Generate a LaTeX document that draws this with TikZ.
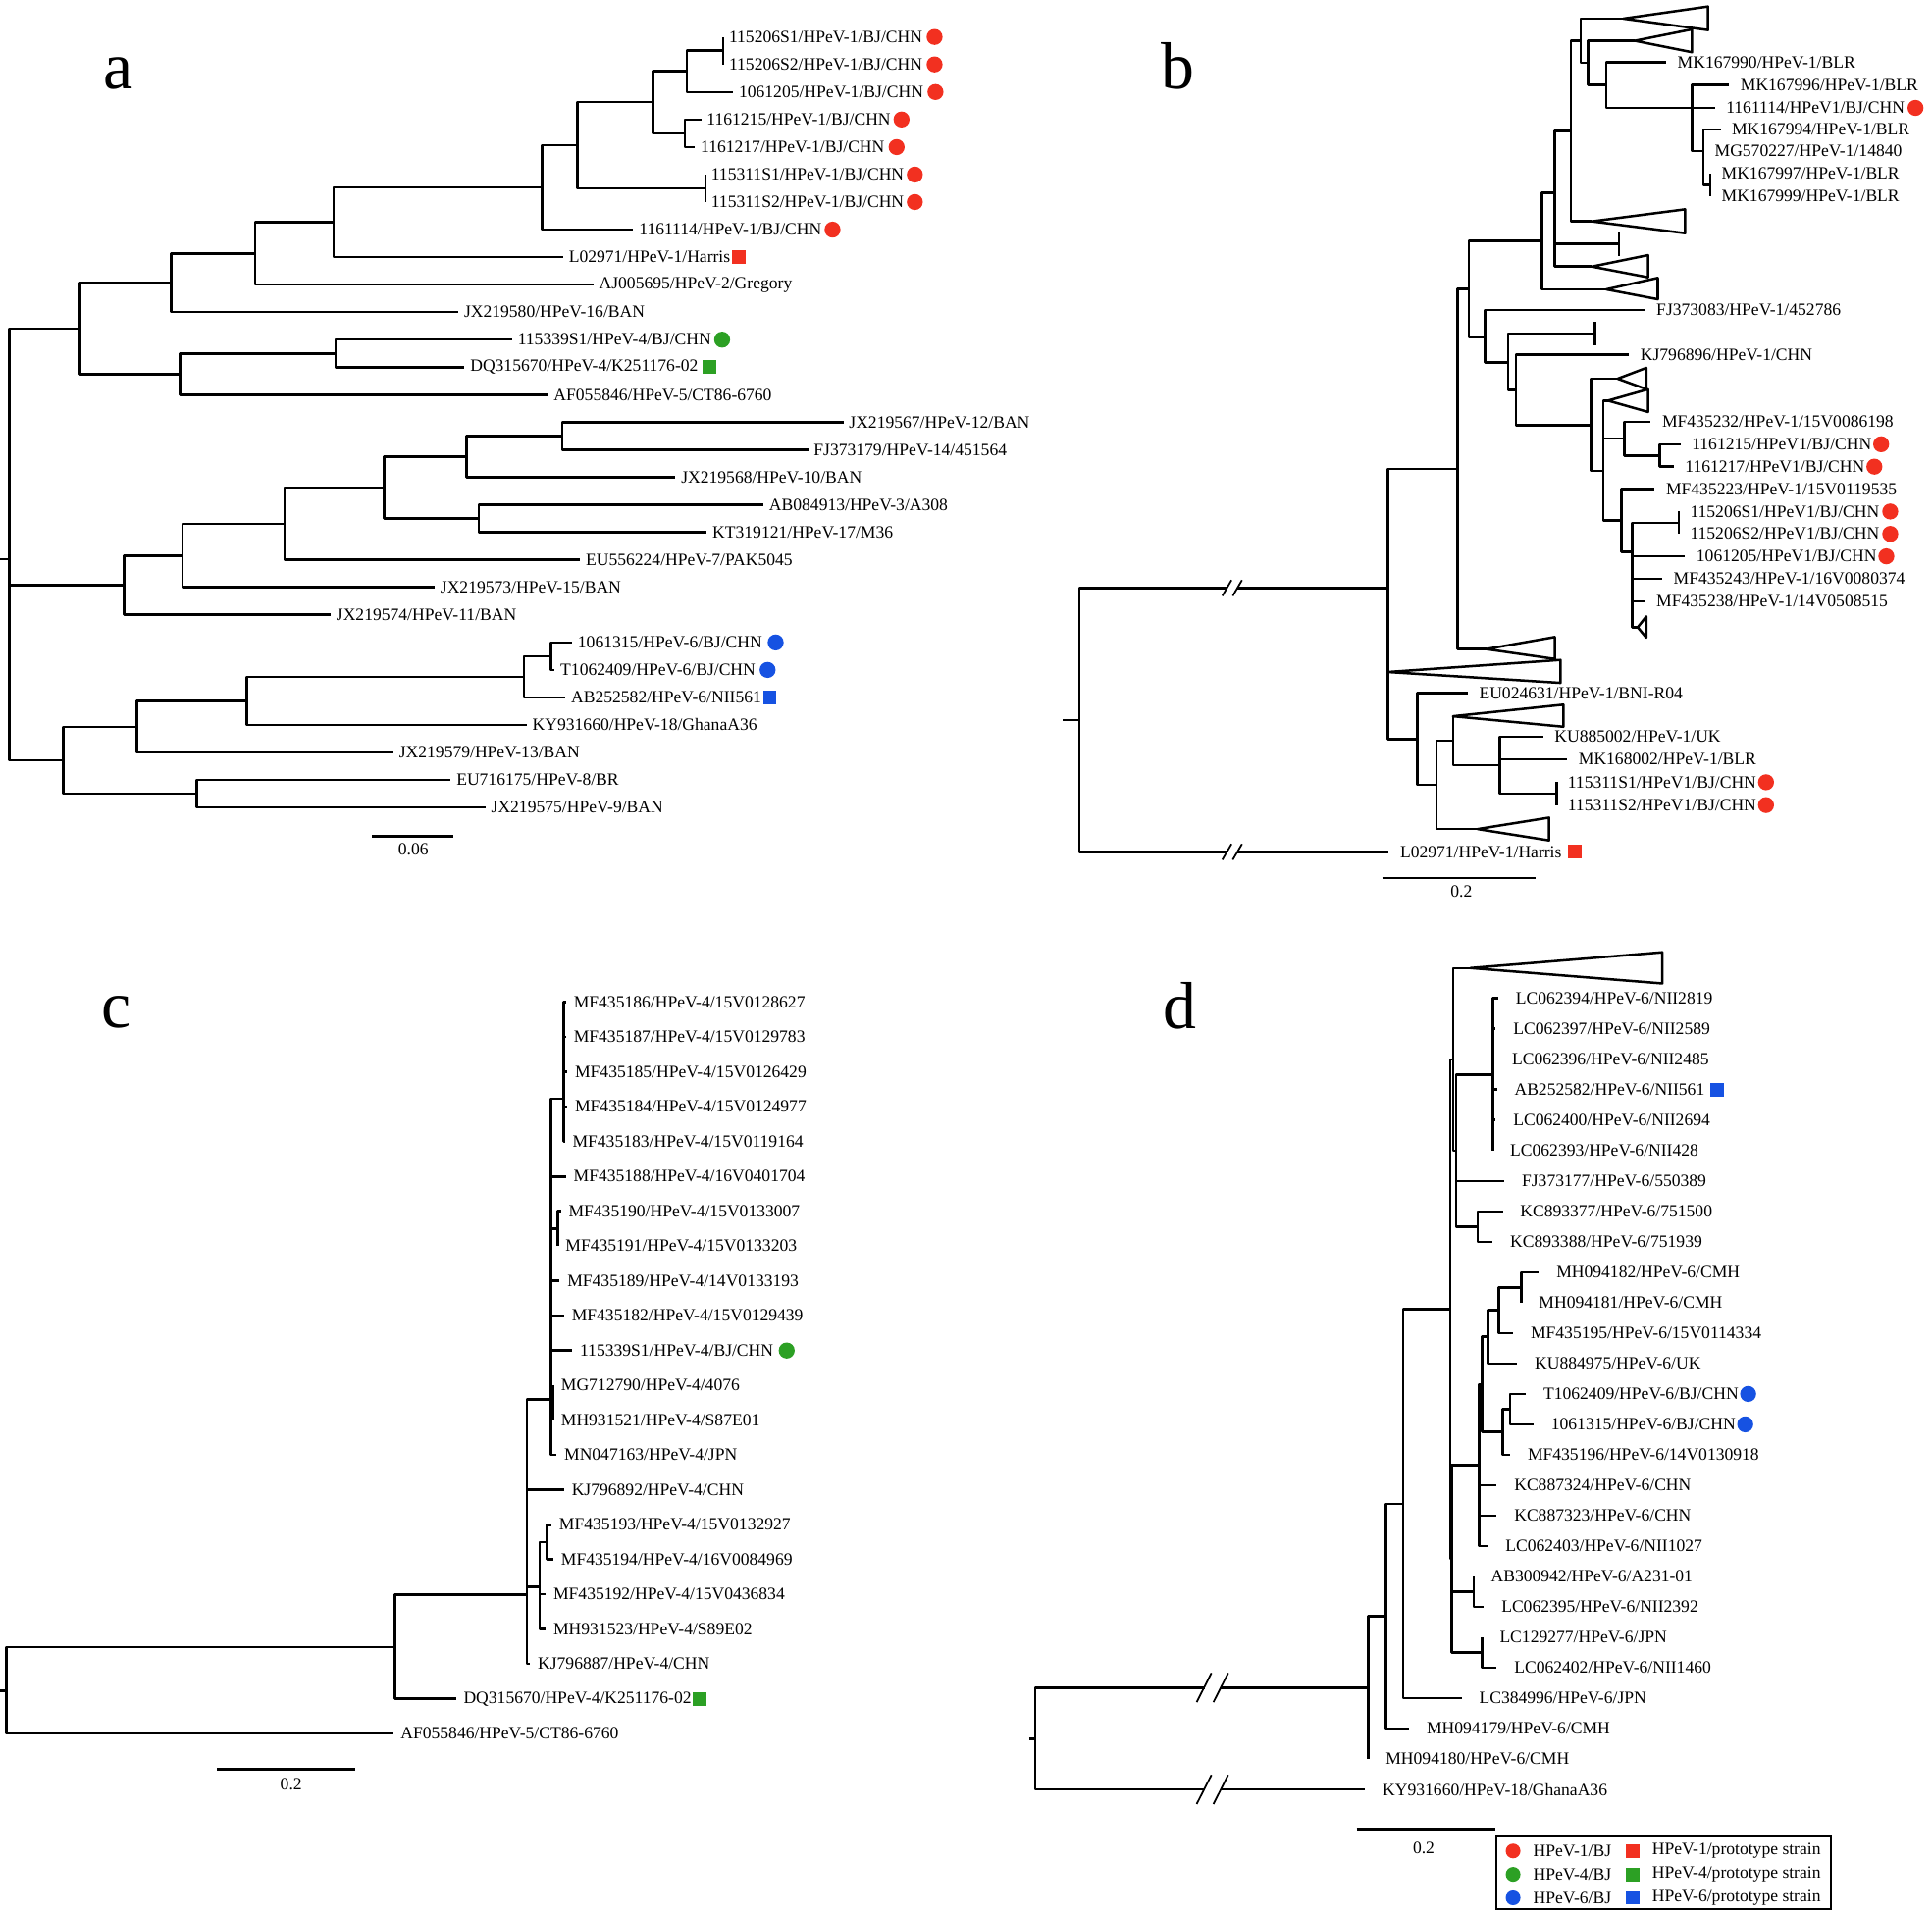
\documentclass[tikz,border=0pt]{standalone}
\usepackage{fontspec}
\setmainfont{Liberation Serif}
\usetikzlibrary{positioning}
\definecolor{bjred}{RGB}{242,48,32}
\definecolor{bjgreen}{RGB}{44,160,36}
\definecolor{bjblue}{RGB}{22,82,226}

\begin{document}
\begin{tikzpicture}[
        x=1pt, y=-1pt,
        branch/.style={line width=2pt, line join=round},
        lab/.style={font=\fontsize{14}{16}\selectfont, inner sep=0pt},
        panel/.style={font=\fontsize{54}{60}\selectfont, anchor=base, inner sep=0pt},
        dot/.style={circle, inner sep=0pt, minimum size=13pt},
        sq/.style={rectangle, inner sep=0pt, minimum size=11pt},
        brk/.pic={
            \fill[white] (-4,-3.5) rectangle (4,3.5);
            \draw[line width=1.4pt] (-8,6.4) -- (-0.5,-6.4) (0.5,6.4) -- (8,-6.4);
        },
    ]
    \useasboundingbox (0,0) rectangle (1568,1551);

    % ---------------- a: all types
    \begin{scope}[node distance=4.5pt]
        \node[panel] (a-tag) at (96,71.7) {a};

        \coordinate (a-stem) at (0,454);
        \coordinate (a-root) at (7.6,454);
        \coordinate (a-top) at (65,266.7);
        \coordinate (a-n1to11) at (139,229.6);
        \coordinate (a-n1to10) at (207,205.8);
        \coordinate (a-n1to9) at (270.6,180.5);
        \coordinate (a-n1to8) at (440,152.2);
        \coordinate (a-n1to7) at (468.6,118);
        \coordinate (a-n1to5) at (530,83);
        \coordinate (a-n123) at (557.4,57.9);
        \coordinate (a-n12) at (587,41.1);
        \coordinate (a-n45) at (555.7,108.2);
        \coordinate (a-n67) at (572.5,152.9);
        \coordinate (a-n12to14) at (146,303.7);
        \coordinate (a-n1213) at (272.2,286.9);
        \coordinate (a-mid) at (100.6,475.1);
        \coordinate (a-n15to21) at (148.3,451);
        \coordinate (a-n15to20) at (231,425.2);
        \coordinate (a-n15to19) at (311.7,395.9);
        \coordinate (a-n15to17) at (378.8,370.7);
        \coordinate (a-n1516) at (456.2,354);
        \coordinate (a-n1819) at (388.5,421);
        \coordinate (a-bot) at (51.4,617.2);
        \coordinate (a-n23to27) at (111,589.9);
        \coordinate (a-n23to26) at (200.2,569);
        \coordinate (a-n23to25) at (425.3,549.5);
        \coordinate (a-n2324) at (447,532.7);
        \coordinate (a-n2829) at (159.6,644.4);

        \coordinate (a-l1) at (587,30.0);
        \coordinate (a-l2) at (587,52.3);
        \coordinate (a-l3) at (595,74.7);
        \coordinate (a-l4) at (569,97.0);
        \coordinate (a-l5) at (564,119.4);
        \coordinate (a-l6) at (572.5,141.7);
        \coordinate (a-l7) at (572.5,164.0);
        \coordinate (a-l8) at (514,186.4);
        \coordinate (a-l9) at (457,208.7);
        \coordinate (a-l10) at (481.6,231.1);
        \coordinate (a-l11) at (372,253.4);
        \coordinate (a-l12) at (415.6,275.7);
        \coordinate (a-l13) at (377,298.1);
        \coordinate (a-l14) at (444.8,320.4);
        \coordinate (a-l15) at (684.5,342.8);
        \coordinate (a-l16) at (655.8,365.1);
        \coordinate (a-l17) at (548.2,387.4);
        \coordinate (a-l18) at (619.6,409.8);
        \coordinate (a-l19) at (573.6,432.1);
        \coordinate (a-l20) at (470.8,454.5);
        \coordinate (a-l21) at (352.8,476.8);
        \coordinate (a-l22) at (268.4,499.1);
        \coordinate (a-l23) at (464.3,521.5);
        \coordinate (a-l24) at (450.2,543.8);
        \coordinate (a-l25) at (458.9,566.2);
        \coordinate (a-l26) at (427.5,588.5);
        \coordinate (a-l27) at (319.3,610.8);
        \coordinate (a-l28) at (365.8,633.2);
        \coordinate (a-l29) at (394,655.5);

        \draw[branch] (a-stem) -- (a-root);
        \draw[branch] (a-root) |- (a-top) (a-root) |- (a-mid) (a-root) |- (a-bot);
        \draw[branch] (a-top) |- (a-n1to11) (a-top) |- (a-n12to14);
        \draw[branch] (a-n1to11) |- (a-n1to10) (a-n1to11) |- (a-l11);
        \draw[branch] (a-n1to10) |- (a-n1to9) (a-n1to10) |- (a-l10);
        \draw[branch] (a-n1to9) |- (a-n1to8) (a-n1to9) |- (a-l9);
        \draw[branch] (a-n1to8) |- (a-n1to7) (a-n1to8) |- (a-l8);
        \draw[branch] (a-n1to7) |- (a-n1to5) (a-n1to7) |- (a-n67);
        \draw[branch] (a-n1to5) |- (a-n123) (a-n1to5) |- (a-n45);
        \draw[branch] (a-n123) |- (a-n12) (a-n123) |- (a-l3);
        \draw[branch] (a-n12) |- (a-l1) (a-n12) |- (a-l2);
        \draw[branch] (a-n45) |- (a-l4) (a-n45) |- (a-l5);
        \draw[branch] (a-n67) |- (a-l6) (a-n67) |- (a-l7);
        \draw[branch] (a-n12to14) |- (a-n1213) (a-n12to14) |- (a-l14);
        \draw[branch] (a-n1213) |- (a-l12) (a-n1213) |- (a-l13);
        \draw[branch] (a-mid) |- (a-n15to21) (a-mid) |- (a-l22);
        \draw[branch] (a-n15to21) |- (a-n15to20) (a-n15to21) |- (a-l21);
        \draw[branch] (a-n15to20) |- (a-n15to19) (a-n15to20) |- (a-l20);
        \draw[branch] (a-n15to19) |- (a-n15to17) (a-n15to19) |- (a-n1819);
        \draw[branch] (a-n15to17) |- (a-n1516) (a-n15to17) |- (a-l17);
        \draw[branch] (a-n1516) |- (a-l15) (a-n1516) |- (a-l16);
        \draw[branch] (a-n1819) |- (a-l18) (a-n1819) |- (a-l19);
        \draw[branch] (a-bot) |- (a-n23to27) (a-bot) |- (a-n2829);
        \draw[branch] (a-n23to27) |- (a-n23to26) (a-n23to27) |- (a-l27);
        \draw[branch] (a-n23to26) |- (a-n23to25) (a-n23to26) |- (a-l26);
        \draw[branch] (a-n23to25) |- (a-n2324) (a-n23to25) |- (a-l25);
        \draw[branch] (a-n2324) |- (a-l23) (a-n2324) |- (a-l24);
        \draw[branch] (a-n2829) |- (a-l28) (a-n2829) |- (a-l29);

        \node[lab, right=of a-l1] (a-t1) {115206S1/HPeV-1/BJ/CHN};
        \node[lab, right=of a-l2] (a-t2) {115206S2/HPeV-1/BJ/CHN};
        \node[lab, right=of a-l3] (a-t3) {1061205/HPeV-1/BJ/CHN};
        \node[lab, right=of a-l4] (a-t4) {1161215/HPeV-1/BJ/CHN};
        \node[lab, right=of a-l5] (a-t5) {1161217/HPeV-1/BJ/CHN};
        \node[lab, right=of a-l6] (a-t6) {115311S1/HPeV-1/BJ/CHN};
        \node[lab, right=of a-l7] (a-t7) {115311S2/HPeV-1/BJ/CHN};
        \node[lab, right=of a-l8] (a-t8) {1161114/HPeV-1/BJ/CHN};
        \node[lab, right=of a-l9] (a-t9) {L02971/HPeV-1/Harris};
        \node[lab, right=of a-l10] (a-t10) {AJ005695/HPeV-2/Gregory};
        \node[lab, right=of a-l11] (a-t11) {JX219580/HPeV-16/BAN};
        \node[lab, right=of a-l12] (a-t12) {115339S1/HPeV-4/BJ/CHN};
        \node[lab, right=of a-l13] (a-t13) {DQ315670/HPeV-4/K251176-02};
        \node[lab, right=of a-l14] (a-t14) {AF055846/HPeV-5/CT86-6760};
        \node[lab, right=of a-l15] (a-t15) {JX219567/HPeV-12/BAN};
        \node[lab, right=of a-l16] (a-t16) {FJ373179/HPeV-14/451564};
        \node[lab, right=of a-l17] (a-t17) {JX219568/HPeV-10/BAN};
        \node[lab, right=of a-l18] (a-t18) {AB084913/HPeV-3/A308};
        \node[lab, right=of a-l19] (a-t19) {KT319121/HPeV-17/M36};
        \node[lab, right=of a-l20] (a-t20) {EU556224/HPeV-7/PAK5045};
        \node[lab, right=of a-l21] (a-t21) {JX219573/HPeV-15/BAN};
        \node[lab, right=of a-l22] (a-t22) {JX219574/HPeV-11/BAN};
        \node[lab, right=of a-l23] (a-t23) {1061315/HPeV-6/BJ/CHN};
        \node[lab, right=of a-l24] (a-t24) {T1062409/HPeV-6/BJ/CHN};
        \node[lab, right=of a-l25] (a-t25) {AB252582/HPeV-6/NII561};
        \node[lab, right=of a-l26] (a-t26) {KY931660/HPeV-18/GhanaA36};
        \node[lab, right=of a-l27] (a-t27) {JX219579/HPeV-13/BAN};
        \node[lab, right=of a-l28] (a-t28) {EU716175/HPeV-8/BR};
        \node[lab, right=of a-l29] (a-t29) {JX219575/HPeV-9/BAN};

        \node[dot, fill=bjred, right=3pt of a-t1] (a-m1) {};
        \node[dot, fill=bjred, right=3pt of a-t2] (a-m2) {};
        \node[dot, fill=bjred, right=3pt of a-t3] (a-m3) {};
        \node[dot, fill=bjred, right=2pt of a-t4] (a-m4) {};
        \node[dot, fill=bjred, right=3pt of a-t5] (a-m5) {};
        \node[dot, fill=bjred, right=2pt of a-t6] (a-m6) {};
        \node[dot, fill=bjred, right=2pt of a-t7] (a-m7) {};
        \node[dot, fill=bjred, right=2pt of a-t8] (a-m8) {};
        \node[sq, fill=bjred, right=1pt of a-t9] (a-m9) {};
        \node[dot, fill=bjgreen, right=2pt of a-t12] (a-m12) {};
        \node[sq, fill=bjgreen, right=3pt of a-t13] (a-m13) {};
        \node[dot, fill=bjblue, right=4pt of a-t23] (a-m23) {};
        \node[dot, fill=bjblue, right=3pt of a-t24] (a-m24) {};
        \node[sq, fill=bjblue, right=1pt of a-t25] (a-m25) {};

        \coordinate (a-s1) at (302,678.8);
        \coordinate (a-s2) at (368,678.8);
        \draw[branch] (a-s1) -- (a-s2);
        \node[lab] (a-sl) at (335.5,689.5) {0.06};
    \end{scope}

    % ---------------- b: HPeV-1
    \begin{scope}[node distance=9pt]
        \node[panel] (b-tag) at (956,71.7) {b};

        \coordinate (b-stem) at (862.8,584.4);
        \coordinate (b-root) at (875.8,584.4);
        \coordinate (b-n-B) at (1126.3,477.3);
        \coordinate (b-n-A) at (1182.9,380.7);
        \coordinate (b-n-mid4) at (1192.2,234.5);
        \coordinate (b-n-up3) at (1251.6,195.6);
        \coordinate (b-n-up2) at (1261.8,156.6);
        \coordinate (b-n-up) at (1274.8,106.4);
        \coordinate (b-nT1) at (1282.7,33.1);
        \coordinate (b-nT2) at (1288.8,51.1);
        \coordinate (b-n1to7) at (1303.6,69);
        \coordinate (b-n2to7) at (1373.2,87.6);
        \coordinate (b-n4to7) at (1382.5,122.6);
        \coordinate (b-n67) at (1388.1,150.3);
        \coordinate (b-n-mid3) at (1205.2,273.4);
        \coordinate (b-n-mid2) at (1223.8,294.1);
        \coordinate (b-n-mid1) at (1230.3,316.6);
        \coordinate (b-n-M) at (1291.1,345.1);
        \coordinate (b-n-M2) at (1301.3,382.3);
        \coordinate (b-n-M3) at (1318.4,356.1);
        \coordinate (b-n-M5) at (1346.8,369.7);
        \coordinate (b-n-M4) at (1316.1,422.6);
        \coordinate (b-n-M6) at (1324.5,448.1);
        \coordinate (b-n-pair) at (1362.5,424.3);
        \coordinate (b-n-C) at (1150.5,600);
        \coordinate (b-n-D) at (1165.8,637.2);
        \coordinate (b-n-E) at (1179.2,601.3);
        \coordinate (b-n-F) at (1217,621.2);
        \coordinate (b-n-pair2) at (1263.2,644.3);

        % collapsed clades and ticks
        \coordinate (b-c1) at (1317.5,15.1);
        \coordinate (b-c2) at (1326.8,33.1);
        \coordinate (b-c3) at (1292,179.7);
        \coordinate (b-k1) at (1313.8,197.8);
        \coordinate (b-c4) at (1292,216.4);
        \coordinate (b-c5) at (1303.6,234.9);
        \coordinate (b-k2) at (1294.3,270.8);
        \coordinate (b-c6) at (1206.2,526.9);
        \coordinate (b-c7) at (1312.9,307.4);
        \coordinate (b-c8) at (1305,325.2);
        \coordinate (b-c9) at (1329.1,509.2);
        \coordinate (b-c10) at (1179.2,581.4);
        \coordinate (b-c11) at (1199.2,673);
        \coordinate (b-c12) at (1126.3,545.5);

        \coordinate (b-l1) at (1352.3,50.4);
        \coordinate (b-l2) at (1403.4,69);
        \coordinate (b-l3) at (1391.8,87.6);
        \coordinate (b-l4) at (1396.4,105.2);
        \coordinate (b-l5) at (1382.5,122.6);
        \coordinate (b-l6) at (1388.1,141);
        \coordinate (b-l7) at (1388.1,159.5);
        \coordinate (b-l8) at (1335.2,251.7);
        \coordinate (b-l9) at (1322.2,288);
        \coordinate (b-l10) at (1339.8,342.4);
        \coordinate (b-l11) at (1363.9,360.6);
        \coordinate (b-l12) at (1358.4,378.8);
        \coordinate (b-l13) at (1343,397);
        \coordinate (b-l14) at (1362.5,415.2);
        \coordinate (b-l15) at (1362.5,433.4);
        \coordinate (b-l16) at (1367.6,451.6);
        \coordinate (b-l17) at (1349.1,469.8);
        \coordinate (b-l18) at (1335.2,488);
        \coordinate (b-l19) at (1191.3,562.8);
        \coordinate (b-l20) at (1252.5,598);
        \coordinate (b-l21) at (1272,616.5);
        \coordinate (b-l22) at (1263.2,635);
        \coordinate (b-l23) at (1263.2,653.5);
        \coordinate (b-l24) at (1127.2,691.5);

        \draw[branch] (b-stem) -- (b-root);
        \draw[branch] (b-root) |- (b-n-B) (b-root) |- (b-l24);
        \draw[branch] (b-n-B) |- (b-n-A) (b-n-B) |- (b-c12) (b-n-B) |- (b-n-C);
        \draw[branch] (b-n-A) |- (b-n-mid4) (b-n-A) |- (b-c6);
        \draw[branch] (b-n-mid4) |- (b-n-up3) (b-n-mid4) |- (b-n-mid3);
        \draw[branch] (b-n-up3) |- (b-n-up2) (b-n-up3) |- (b-c5);
        \draw[branch] (b-n-up2) |- (b-n-up) (b-n-up2) |- (b-k1) (b-n-up2) |- (b-c4);
        \draw[branch] (b-n-up) |- (b-nT1) (b-n-up) |- (b-c3);
        \draw[branch] (b-nT1) |- (b-c1) (b-nT1) |- (b-nT2);
        \draw[branch] (b-nT2) |- (b-c2) (b-nT2) |- (b-n1to7);
        \draw[branch] (b-n1to7) |- (b-l1) (b-n1to7) |- (b-n2to7);
        \draw[branch] (b-n2to7) |- (b-l2) (b-n2to7) |- (b-l3) (b-n2to7) |- (b-n4to7);
        \draw[branch] (b-n4to7) |- (b-l4) (b-n4to7) |- (b-l5) (b-n4to7) |- (b-n67);
        \draw[branch] (b-n67) |- (b-l6) (b-n67) |- (b-l7);
        \draw[branch] (b-n-mid3) |- (b-l8) (b-n-mid3) |- (b-n-mid2);
        \draw[branch] (b-n-mid2) |- (b-k2) (b-n-mid2) |- (b-n-mid1);
        \draw[branch] (b-n-mid1) |- (b-l9) (b-n-mid1) |- (b-n-M);
        \draw[branch] (b-n-M) |- (b-c7) (b-n-M) |- (b-n-M2);
        \draw[branch] (b-n-M2) |- (b-c8) (b-n-M2) |- (b-n-M3) (b-n-M2) |- (b-n-M4);
        \draw[branch] (b-n-M3) |- (b-l10) (b-n-M3) |- (b-n-M5);
        \draw[branch] (b-n-M5) |- (b-l11) (b-n-M5) |- (b-l12);
        \draw[branch] (b-n-M4) |- (b-l13) (b-n-M4) |- (b-n-M6);
        \draw[branch] (b-n-M6) |- (b-n-pair) (b-n-M6) |- (b-l16) (b-n-M6) |- (b-l17)
            (b-n-M6) |- (b-l18) (b-n-M6) |- (b-c9);
        \draw[branch] (b-n-pair) |- (b-l14) (b-n-pair) |- (b-l15);
        \draw[branch] (b-n-C) |- (b-l19) (b-n-C) |- (b-n-D);
        \draw[branch] (b-n-D) |- (b-n-E) (b-n-D) |- (b-c11);
        \draw[branch] (b-n-E) |- (b-c10) (b-n-E) |- (b-n-F);
        \draw[branch] (b-n-F) |- (b-l20) (b-n-F) |- (b-l21) (b-n-F) |- (b-n-pair2);
        \draw[branch] (b-n-pair2) |- (b-l22) (b-n-pair2) |- (b-l23);

        \draw[branch] (b-c1) -- ++(68.7,-9.8) -- ++(0,19.1) -- cycle;
        \draw[branch] (b-c2) -- ++(46.4,-9.3) -- ++(0,18.6) -- cycle;
        \draw[branch] (b-c3) -- ++(75.6,-9.8) -- ++(0,19.4) -- cycle;
        \draw[branch] (b-c4) -- ++(45.5,-9.3) -- ++(0,18) -- cycle;
        \draw[branch] (b-c5) -- ++(41.8,-9.3) -- ++(0,17.3) -- cycle;
        \draw[branch] (b-c6) -- ++(55.6,-9.8) -- ++(0,17.8) -- cycle;
        \draw[branch] (b-c7) -- ++(23.2,-8.8) -- ++(0,17.3) -- cycle;
        \draw[branch] (b-c8) -- ++(32.5,-9.2) -- ++(0,18.4) -- cycle;
        \draw[branch] (b-c9) -- ++(7,-8.8) -- ++(0,17.2) -- cycle;
        \draw[branch] (b-c10) -- ++(89.6,-9.4) -- ++(0,17.9) -- cycle;
        \draw[branch] (b-c11) -- ++(58,-9.3) -- ++(0,18.5) -- cycle;
        \draw[branch] (b-c12) -- ++(140.2,-9.8) -- ++(0,18.6) -- cycle;
        \draw[branch] (b-k1) ++(0,-9.7) -- ++(0,19.4);
        \draw[branch] (b-k2) ++(0,-9.3) -- ++(0,18.6);

        \pic at (1000,477.3) {brk};
        \pic at (1000,691.5) {brk};

        \node[lab, right=of b-l1] (b-t1) {MK167990/HPeV-1/BLR};
        \node[lab, right=of b-l2] (b-t2) {MK167996/HPeV-1/BLR};
        \node[lab, right=of b-l3] (b-t3) {1161114/HPeV1/BJ/CHN};
        \node[lab, right=of b-l4] (b-t4) {MK167994/HPeV-1/BLR};
        \node[lab, right=of b-l5] (b-t5) {MG570227/HPeV-1/14840};
        \node[lab, right=of b-l6] (b-t6) {MK167997/HPeV-1/BLR};
        \node[lab, right=of b-l7] (b-t7) {MK167999/HPeV-1/BLR};
        \node[lab, right=of b-l8] (b-t8) {FJ373083/HPeV-1/452786};
        \node[lab, right=of b-l9] (b-t9) {KJ796896/HPeV-1/CHN};
        \node[lab, right=of b-l10] (b-t10) {MF435232/HPeV-1/15V0086198};
        \node[lab, right=of b-l11] (b-t11) {1161215/HPeV1/BJ/CHN};
        \node[lab, right=of b-l12] (b-t12) {1161217/HPeV1/BJ/CHN};
        \node[lab, right=of b-l13] (b-t13) {MF435223/HPeV-1/15V0119535};
        \node[lab, right=of b-l14] (b-t14) {115206S1/HPeV1/BJ/CHN};
        \node[lab, right=of b-l15] (b-t15) {115206S2/HPeV1/BJ/CHN};
        \node[lab, right=of b-l16] (b-t16) {1061205/HPeV1/BJ/CHN};
        \node[lab, right=of b-l17] (b-t17) {MF435243/HPeV-1/16V0080374};
        \node[lab, right=of b-l18] (b-t18) {MF435238/HPeV-1/14V0508515};
        \node[lab, right=of b-l19] (b-t19) {EU024631/HPeV-1/BNI-R04};
        \node[lab, right=of b-l20] (b-t20) {KU885002/HPeV-1/UK};
        \node[lab, right=of b-l21] (b-t21) {MK168002/HPeV-1/BLR};
        \node[lab, right=of b-l22] (b-t22) {115311S1/HPeV1/BJ/CHN};
        \node[lab, right=of b-l23] (b-t23) {115311S2/HPeV1/BJ/CHN};
        \node[lab, right=of b-l24] (b-t24) {L02971/HPeV-1/Harris};

        \node[dot, fill=bjred, right=2pt of b-t3] (b-m3) {};
        \node[dot, fill=bjred, right=1pt of b-t11] (b-m11) {};
        \node[dot, fill=bjred, right=1pt of b-t12] (b-m12) {};
        \node[dot, fill=bjred, right=2pt of b-t14] (b-m14) {};
        \node[dot, fill=bjred, right=2pt of b-t15] (b-m15) {};
        \node[dot, fill=bjred, right=1pt of b-t16] (b-m16) {};
        \node[dot, fill=bjred, right=1pt of b-t22] (b-m22) {};
        \node[dot, fill=bjred, right=1pt of b-t23] (b-m23) {};
        \node[sq, fill=bjred, right=5pt of b-t24] (b-m24) {};

        \coordinate (b-s1) at (1121.7,712.8);
        \coordinate (b-s2) at (1246.1,712.8);
        \draw[branch] (b-s1) -- (b-s2);
        \node[lab] (b-sl) at (1186,723.4) {0.2};
    \end{scope}

    % ---------------- c: HPeV-4
    \begin{scope}[node distance=6pt]
        \node[panel] (c-tag) at (94.5,834) {c};

        \coordinate (c-stem) at (0,1372.3);
        \coordinate (c-root) at (5.1,1372.3);
        \coordinate (c-nD) at (320.6,1337.2);
        \coordinate (c-nC) at (427.8,1294.4);
        \coordinate (c-nB) at (438,1288);
        \coordinate (c-n1617) at (444,1251.8);
        \coordinate (c-nA) at (447,1136);
        \coordinate (c-n1to5) at (457.5,892);
        \coordinate (c-n78) at (452.8,997.4);
        \coordinate (c-n1213) at (449.2,1138.7);

        \coordinate (c-l1) at (459.5,813.6);
        \coordinate (c-l2) at (459.5,841.9);
        \coordinate (c-l3) at (460.5,870.1);
        \coordinate (c-l4) at (460.5,898.4);
        \coordinate (c-l5) at (458.5,926.7);
        \coordinate (c-l6) at (459.4,955.0);
        \coordinate (c-l7) at (455.3,983.2);
        \coordinate (c-l8) at (452.8,1011.5);
        \coordinate (c-l9) at (454.3,1039.8);
        \coordinate (c-l10) at (457.9,1068.0);
        \coordinate (c-l11) at (464.5,1096.3);
        \coordinate (c-l12) at (449.2,1124.6);
        \coordinate (c-l13) at (449.2,1152.8);
        \coordinate (c-l14) at (451.8,1181.1);
        \coordinate (c-l15) at (457.9,1209.4);
        \coordinate (c-l16) at (447.7,1237.7);
        \coordinate (c-l17) at (449.2,1265.9);
        \coordinate (c-l18) at (443,1294.2);
        \coordinate (c-l19) at (443,1322.5);
        \coordinate (c-l20) at (430.3,1350.7);
        \coordinate (c-l21) at (370.1,1379.0);
        \coordinate (c-l22) at (319,1407.3);

        \draw[branch] (c-stem) -- (c-root);
        \draw[branch] (c-root) |- (c-nD) (c-root) |- (c-l22);
        \draw[branch] (c-nD) |- (c-nC) (c-nD) |- (c-l21);
        \draw[branch] (c-nC) |- (c-nA) (c-nC) |- (c-l15) (c-nC) |- (c-nB) (c-nC) |- (c-l20);
        \draw[branch] (c-nB) |- (c-n1617) (c-nB) |- (c-l18) (c-nB) |- (c-l19);
        \draw[branch] (c-n1617) |- (c-l16) (c-n1617) |- (c-l17);
        \draw[branch] (c-nA) |- (c-n1to5) (c-nA) |- (c-l6) (c-nA) |- (c-n78) (c-nA) |- (c-l9)
            (c-nA) |- (c-l10) (c-nA) |- (c-l11) (c-nA) |- (c-n1213) (c-nA) |- (c-l14);
        \draw[branch] (c-n1to5) |- (c-l1) (c-n1to5) |- (c-l2) (c-n1to5) |- (c-l3)
            (c-n1to5) |- (c-l4) (c-n1to5) |- (c-l5);
        \draw[branch] (c-n78) |- (c-l7) (c-n78) |- (c-l8);
        \draw[branch] (c-n1213) |- (c-l12) (c-n1213) |- (c-l13);

        \node[lab, right=of c-l1] (c-t1) {MF435186/HPeV-4/15V0128627};
        \node[lab, right=of c-l2] (c-t2) {MF435187/HPeV-4/15V0129783};
        \node[lab, right=of c-l3] (c-t3) {MF435185/HPeV-4/15V0126429};
        \node[lab, right=of c-l4] (c-t4) {MF435184/HPeV-4/15V0124977};
        \node[lab, right=of c-l5] (c-t5) {MF435183/HPeV-4/15V0119164};
        \node[lab, right=of c-l6] (c-t6) {MF435188/HPeV-4/16V0401704};
        \node[lab, right=of c-l7] (c-t7) {MF435190/HPeV-4/15V0133007};
        \node[lab, right=of c-l8] (c-t8) {MF435191/HPeV-4/15V0133203};
        \node[lab, right=of c-l9] (c-t9) {MF435189/HPeV-4/14V0133193};
        \node[lab, right=of c-l10] (c-t10) {MF435182/HPeV-4/15V0129439};
        \node[lab, right=of c-l11] (c-t11) {115339S1/HPeV-4/BJ/CHN};
        \node[lab, right=of c-l12] (c-t12) {MG712790/HPeV-4/4076};
        \node[lab, right=of c-l13] (c-t13) {MH931521/HPeV-4/S87E01};
        \node[lab, right=of c-l14] (c-t14) {MN047163/HPeV-4/JPN};
        \node[lab, right=of c-l15] (c-t15) {KJ796892/HPeV-4/CHN};
        \node[lab, right=of c-l16] (c-t16) {MF435193/HPeV-4/15V0132927};
        \node[lab, right=of c-l17] (c-t17) {MF435194/HPeV-4/16V0084969};
        \node[lab, right=of c-l18] (c-t18) {MF435192/HPeV-4/15V0436834};
        \node[lab, right=of c-l19] (c-t19) {MH931523/HPeV-4/S89E02};
        \node[lab, right=of c-l20] (c-t20) {KJ796887/HPeV-4/CHN};
        \node[lab, right=of c-l21] (c-t21) {DQ315670/HPeV-4/K251176-02};
        \node[lab, right=of c-l22] (c-t22) {AF055846/HPeV-5/CT86-6760};

        \node[dot, fill=bjgreen, right=4pt of c-t11] (c-m11) {};
        \node[sq, fill=bjgreen, right=1pt of c-t21] (c-m21) {};

        \coordinate (c-s1) at (176.1,1436.1);
        \coordinate (c-s2) at (288.4,1436.1);
        \draw[branch] (c-s1) -- (c-s2);
        \node[lab] (c-sl) at (236.3,1448) {0.2};
    \end{scope}

    % ---------------- d: HPeV-6
    \begin{scope}[node distance=14pt]
        \node[panel] (d-tag) at (957.7,834.9) {d};

        \coordinate (d-stem) at (835.3,1411.3);
        \coordinate (d-root) at (840,1411.3);
        \coordinate (d-nU) at (1110.5,1369.9);
        \coordinate (d-nT) at (1124.7,1311.9);
        \coordinate (d-nS) at (1138.9,1220.6);
        \coordinate (d-nQ) at (1176.9,1062.7);
        \coordinate (d-nP) at (1179.2,859.9);
        \coordinate (d-c1) at (1193.5,785.8);
        \coordinate (d-nR) at (1181.6,934);
        \coordinate (d-nNII) at (1211.5,872.2);
        \coordinate (d-nKC89) at (1199.2,995.7);
        \coordinate (d-n10to23) at (1178.3,1265.5);
        \coordinate (d-n10to19) at (1200.6,1189.4);
        \coordinate (d-n10to16) at (1203,1123.8);
        \coordinate (d-n10to13) at (1207.7,1085.2);
        \coordinate (d-n10to12) at (1216.2,1063.6);
        \coordinate (d-n1011) at (1234.8,1045);
        \coordinate (d-n14to16) at (1219.6,1162.4);
        \coordinate (d-n1415) at (1225.7,1143.9);
        \coordinate (d-n2021) at (1195.9,1292.1);
        \coordinate (d-n2223) at (1203,1341.5);

        \coordinate (d-l1) at (1216,810.4);
        \coordinate (d-l2) at (1214,835.1);
        \coordinate (d-l3) at (1213,859.8);
        \coordinate (d-l4) at (1215,884.5);
        \coordinate (d-l5) at (1214,909.2);
        \coordinate (d-l6) at (1211.5,933.9);
        \coordinate (d-l7) at (1221,958.6);
        \coordinate (d-l8) at (1219.6,983.3);
        \coordinate (d-l9) at (1211.5,1008.0);
        \coordinate (d-l10) at (1249,1032.7);
        \coordinate (d-l11) at (1234.8,1057.4);
        \coordinate (d-l12) at (1228.1,1082.1);
        \coordinate (d-l13) at (1231.4,1106.8);
        \coordinate (d-l14) at (1238.5,1131.5);
        \coordinate (d-l15) at (1244.7,1156.2);
        \coordinate (d-l16) at (1225.7,1180.9);
        \coordinate (d-l17) at (1214.8,1205.6);
        \coordinate (d-l18) at (1214.8,1230.3);
        \coordinate (d-l19) at (1207.7,1255.0);
        \coordinate (d-l20) at (1195.9,1279.7);
        \coordinate (d-l21) at (1204.4,1304.4);
        \coordinate (d-l22) at (1203,1329.1);
        \coordinate (d-l23) at (1214.8,1353.8);
        \coordinate (d-l24) at (1186.3,1378.5);
        \coordinate (d-l25) at (1143.7,1403.2);
        \coordinate (d-l26) at (1110.5,1427.9);
        \coordinate (d-l27) at (1108,1452.6);

        \draw[branch] (d-stem) -- (d-root);
        \draw[branch] (d-root) |- (d-nU) (d-root) |- (d-l27);
        \draw[branch] (d-nU) |- (d-nT) (d-nU) |- (d-l26);
        \draw[branch] (d-nT) |- (d-nS) (d-nT) |- (d-l25);
        \draw[branch] (d-nS) |- (d-nQ) (d-nS) |- (d-l24);
        \draw[branch] (d-nQ) |- (d-nP) (d-nQ) |- (d-n10to23);
        \draw[branch] (d-nP) |- (d-c1) (d-nP) |- (d-nR);
        \draw[branch] (d-nR) |- (d-nNII) (d-nR) |- (d-l7) (d-nR) |- (d-nKC89);
        \draw[branch] (d-nNII) |- (d-l1) (d-nNII) |- (d-l2) (d-nNII) |- (d-l3)
            (d-nNII) |- (d-l4) (d-nNII) |- (d-l5) (d-nNII) |- (d-l6);
        \draw[branch] (d-nKC89) |- (d-l8) (d-nKC89) |- (d-l9);
        \draw[branch] (d-n10to23) |- (d-n10to19) (d-n10to23) |- (d-n2021) (d-n10to23) |- (d-n2223);
        \draw[branch] (d-n10to19) |- (d-n10to16) (d-n10to19) |- (d-l17) (d-n10to19) |- (d-l18)
            (d-n10to19) |- (d-l19);
        \draw[branch] (d-n10to16) |- (d-n10to13) (d-n10to16) |- (d-n14to16);
        \draw[branch] (d-n10to13) |- (d-n10to12) (d-n10to13) |- (d-l13);
        \draw[branch] (d-n10to12) |- (d-n1011) (d-n10to12) |- (d-l12);
        \draw[branch] (d-n1011) |- (d-l10) (d-n1011) |- (d-l11);
        \draw[branch] (d-n14to16) |- (d-n1415) (d-n14to16) |- (d-l16);
        \draw[branch] (d-n1415) |- (d-l14) (d-n1415) |- (d-l15);
        \draw[branch] (d-n2021) |- (d-l20) (d-n2021) |- (d-l21);
        \draw[branch] (d-n2223) |- (d-l22) (d-n2223) |- (d-l23);
        \draw[branch] (d-c1) -- ++(155.6,-12.8) -- ++(0,25.3) -- cycle;

        \pic[xscale=1.6, yscale=1.85] at (984,1369.9) {brk};
        \pic[xscale=1.6, yscale=1.85] at (984,1452.6) {brk};

        \node[lab, right=of d-l1] (d-t1) {LC062394/HPeV-6/NII2819};
        \node[lab, right=of d-l2] (d-t2) {LC062397/HPeV-6/NII2589};
        \node[lab, right=of d-l3] (d-t3) {LC062396/HPeV-6/NII2485};
        \node[lab, right=of d-l4] (d-t4) {AB252582/HPeV-6/NII561};
        \node[lab, right=of d-l5] (d-t5) {LC062400/HPeV-6/NII2694};
        \node[lab, right=of d-l6] (d-t6) {LC062393/HPeV-6/NII428};
        \node[lab, right=of d-l7] (d-t7) {FJ373177/HPeV-6/550389};
        \node[lab, right=of d-l8] (d-t8) {KC893377/HPeV-6/751500};
        \node[lab, right=of d-l9] (d-t9) {KC893388/HPeV-6/751939};
        \node[lab, right=of d-l10] (d-t10) {MH094182/HPeV-6/CMH};
        \node[lab, right=of d-l11] (d-t11) {MH094181/HPeV-6/CMH};
        \node[lab, right=of d-l12] (d-t12) {MF435195/HPeV-6/15V0114334};
        \node[lab, right=of d-l13] (d-t13) {KU884975/HPeV-6/UK};
        \node[lab, right=of d-l14] (d-t14) {T1062409/HPeV-6/BJ/CHN};
        \node[lab, right=of d-l15] (d-t15) {1061315/HPeV-6/BJ/CHN};
        \node[lab, right=of d-l16] (d-t16) {MF435196/HPeV-6/14V0130918};
        \node[lab, right=of d-l17] (d-t17) {KC887324/HPeV-6/CHN};
        \node[lab, right=of d-l18] (d-t18) {KC887323/HPeV-6/CHN};
        \node[lab, right=of d-l19] (d-t19) {LC062403/HPeV-6/NII1027};
        \node[lab, right=of d-l20] (d-t20) {AB300942/HPeV-6/A231-01};
        \node[lab, right=of d-l21] (d-t21) {LC062395/HPeV-6/NII2392};
        \node[lab, right=of d-l22] (d-t22) {LC129277/HPeV-6/JPN};
        \node[lab, right=of d-l23] (d-t23) {LC062402/HPeV-6/NII1460};
        \node[lab, right=of d-l24] (d-t24) {LC384996/HPeV-6/JPN};
        \node[lab, right=of d-l25] (d-t25) {MH094179/HPeV-6/CMH};
        \node[lab, right=of d-l26] (d-t26) {MH094180/HPeV-6/CMH};
        \node[lab, right=of d-l27] (d-t27) {KY931660/HPeV-18/GhanaA36};

        \node[sq, fill=bjblue, right=4pt of d-t4] (d-m4) {};
        \node[dot, fill=bjblue, right=1pt of d-t14] (d-m14) {};
        \node[dot, fill=bjblue, right=1pt of d-t15] (d-m15) {};

        \coordinate (d-s1) at (1101,1484.7);
        \coordinate (d-s2) at (1213.9,1484.7);
        \draw[branch] (d-s1) -- (d-s2);
        \node[lab] (d-sl) at (1155.5,1500.4) {0.2};
    \end{scope}

    % ---------------- legend
    \draw[line width=1.6pt] (1214.5,1490.5) rectangle (1486,1549.5);
    \node[dot, minimum size=12pt, fill=bjred] (lg-d1) at (1228,1502.5) {};
    \node[dot, minimum size=12pt, fill=bjgreen] (lg-d2) at (1228,1521.5) {};
    \node[dot, minimum size=12pt, fill=bjblue] (lg-d3) at (1228,1540.5) {};
    \node[lab, right=10pt of lg-d1] (lg-t1) {HPeV-1/BJ};
    \node[lab, right=10pt of lg-d2] (lg-t2) {HPeV-4/BJ};
    \node[lab, right=10pt of lg-d3] (lg-t3) {HPeV-6/BJ};
    \node[sq, fill=bjred] (lg-s1) at (1325,1502.5) {};
    \node[sq, fill=bjgreen] (lg-s2) at (1325,1521.5) {};
    \node[sq, fill=bjblue] (lg-s3) at (1325,1540.5) {};
    \node[lab, right=10pt of lg-s1] (lg-u1) {HPeV-1/prototype strain};
    \node[lab, right=10pt of lg-s2] (lg-u2) {HPeV-4/prototype strain};
    \node[lab, right=10pt of lg-s3] (lg-u3) {HPeV-6/prototype strain};
\end{tikzpicture}
\end{document}
